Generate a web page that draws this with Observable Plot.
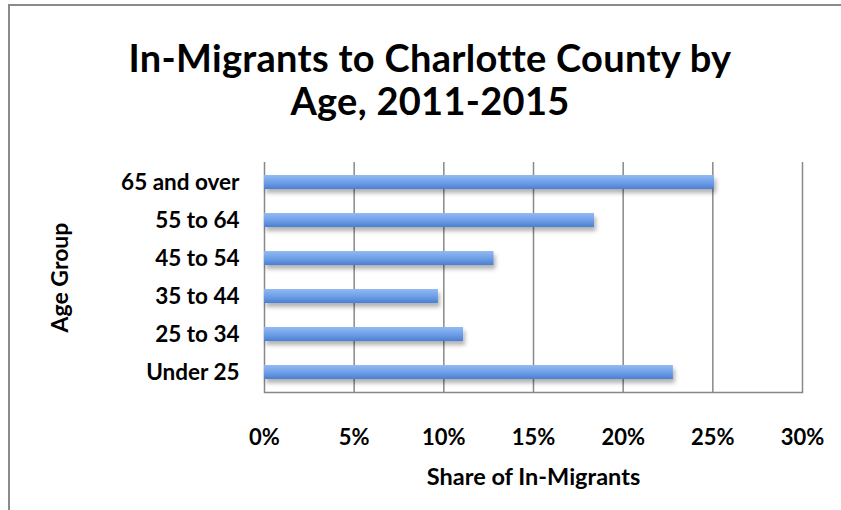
<!DOCTYPE html>
<html><head><meta charset="utf-8">
<script src="https://cdn.jsdelivr.net/npm/d3@7"></script>
<script src="https://cdn.jsdelivr.net/npm/@observablehq/plot@0.6"></script>
<style>
body{margin:0;background:#fff;}
#wrap{position:relative;width:841px;height:510px;overflow:hidden;font-family:Lato,sans-serif;}
#frame{position:absolute;left:8px;top:4px;right:-4px;bottom:-4px;border-left:2px solid #8a8a8a;border-top:2px solid #8a8a8a;}
#title{position:absolute;left:19px;width:822px;top:36px;text-align:center;font-weight:700;font-size:38px;line-height:43px;color:#000;letter-spacing:0.3px;}
#chart{position:absolute;left:0;top:140px;}
</style></head><body>
<div id="wrap"><div id="frame"></div><div id="title">In-Migrants to Charlotte County by<br>Age, 2011-2015</div><div id="chart"></div></div>
<script>
const groups = ["65 and over", "55 to 64", "45 to 54", "35 to 44", "25 to 34", "Under 25"];
const shares = [25.1, 18.4, 12.8, 9.7, 11.1, 22.8];
const xTicks = [0, 5, 10, 15, 20, 25, 30];
const xTickLabels = ["0%", "5%", "10%", "15%", "20%", "25%", "30%"];
const xLabel = "Share of In-Migrants";
const yLabel = "Age Group";

const data = groups.map((g, i) => ({group: g, share: shares[i]}));

const plot = Plot.plot({
  width: 841, height: 370,
  marginLeft: 264, marginRight: 39, marginTop: 22, marginBottom: 118,
  style: {fontFamily: "Lato, sans-serif", color: "#000", background: "transparent"},
  x: {domain: [0, 30]},
  y: {domain: groups, paddingInner: 0.62, paddingOuter: 0.31},
  marks: [
    Plot.gridX(xTicks.slice(1), {stroke: "#888", strokeOpacity: 1, strokeWidth: 1.5}),
    Plot.ruleX([0], {stroke: "#888", strokeWidth: 1.5}),
    Plot.frame({anchor: "bottom", stroke: "#888", strokeWidth: 1.5}),
    Plot.barX(data, {x: "share", y: "group", fill: "#6a9ae2"}),
    Plot.axisX({ticks: xTicks, tickFormat: d => xTickLabels[xTicks.indexOf(d)], tickSize: 0, tickPadding: 37,
      fontSize: 22, fontWeight: 700, label: xLabel, labelAnchor: "center", labelOffset: 92, labelArrow: "none"}),
    Plot.axisY({tickSize: 0, tickPadding: 25, fontSize: 22.5, fontWeight: 700,
      label: yLabel, labelAnchor: "center", labelOffset: 213, labelArrow: "none"})
  ]
});

const svg = d3.select(plot);
const defs = svg.insert("defs", ":first-child");
const grad = defs.append("linearGradient").attr("id", "barGrad")
  .attr("x1", 0).attr("y1", 0).attr("x2", 0).attr("y2", 1);
grad.append("stop").attr("offset", "0%").attr("stop-color", "#92baf3");
grad.append("stop").attr("offset", "55%").attr("stop-color", "#6d9de6");
grad.append("stop").attr("offset", "100%").attr("stop-color", "#4a7fd2");
const f = defs.append("filter").attr("id", "barShadow")
  .attr("x", "-5%").attr("y", "-50%").attr("width", "115%").attr("height", "250%");
f.append("feDropShadow").attr("dx", 2).attr("dy", 4).attr("stdDeviation", 2)
  .attr("flood-color", "#000").attr("flood-opacity", 0.3);
svg.selectAll('g[aria-label="bar"]').attr("fill", "url(#barGrad)").attr("filter", "url(#barShadow)");
svg.selectAll('g[aria-label="bar"] rect').attr("fill", "url(#barGrad)");
svg.selectAll('g[aria-label="x-axis label"] text')
  .style("font-size", "23.5px").style("font-weight", "700");
svg.selectAll('g[aria-label="y-axis label"] text')
  .style("font-size", "23px").style("font-weight", "700");

document.getElementById("chart").appendChild(plot);
</script>
</body></html>
